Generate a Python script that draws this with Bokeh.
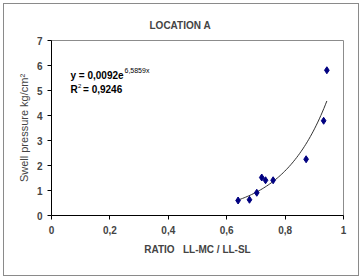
from bokeh.plotting import figure
from bokeh.models import Range1d, FixedTicker, Label, ColumnDataSource
from bokeh.embed import file_html
from bokeh.resources import INLINE
import numpy as np

ratio = [0.639, 0.678, 0.703, 0.720, 0.733, 0.759, 0.872, 0.932, 0.943]
swell = [0.60, 0.63, 0.91, 1.52, 1.41, 1.41, 2.25, 3.79, 5.81]
fit_a = 0.0092
fit_b = 6.5859
x_ticks = [0, 0.2, 0.4, 0.6, 0.8, 1]
x_labels = ["0", "0,2", "0,4", "0,6", "0,8", "1"]
y_ticks = [0, 1, 2, 3, 4, 5, 6, 7]

FONT = "Liberation Sans"

p = figure(width=362, height=279, output_backend="svg", toolbar_location=None,
           x_range=Range1d(0, 1), y_range=Range1d(0, 7),
           min_border_left=51, min_border_right=19, min_border_top=40, min_border_bottom=64)
p.border_fill_color = None
p.styles = {"background-color": "white",
            "box-shadow": "inset 0 0 0 3px white, inset 0 0 0 4px #8a8a8a"}

p.title.text = "LOCATION A"
p.title.align = "left"
p.title.offset = 98
p.title.standoff = 16
p.title.vertical_align = "top"
p.title.text_font = FONT
p.title.text_font_size = "10px"
p.title.text_font_style = "bold"

p.grid.visible = False
p.outline_line_color = "#8c8c8c"
p.outline_line_width = 1
p.background_fill_color = "white"

for ax in (p.xaxis[0], p.yaxis[0]):
    ax.axis_line_color = "black"
    ax.major_tick_line_color = "black"
    ax.major_tick_out = 4
    ax.major_tick_in = 0
    ax.minor_tick_line_color = None
    ax.major_label_text_font = FONT
    ax.major_label_text_font_size = "10px"
    ax.major_label_text_font_style = "bold"
    ax.axis_label_text_font = FONT
    ax.axis_label_text_font_size = "10px"
    ax.axis_label_text_font_style = "bold"

p.xaxis.ticker = FixedTicker(ticks=x_ticks)
p.xaxis.major_label_overrides = {t: l for t, l in zip(x_ticks, x_labels)}
p.xaxis.major_label_standoff = 6
p.xaxis.axis_label = "RATIO\u00a0\u00a0\u00a0LL-MC / LL-SL"
p.xaxis.axis_label_standoff = 7

p.yaxis.ticker = FixedTicker(ticks=y_ticks)
p.yaxis.major_label_standoff = 5
p.yaxis.axis_label = "Swell pressure kg/cm²"
p.yaxis.axis_label_standoff = 4
p.yaxis.axis_label_text_font_style = "normal"
p.yaxis.axis_label_text_font_size = "11px"

xf = np.linspace(min(ratio), max(ratio), 60)
yf = fit_a * np.exp(fit_b * xf)
p.line(xf, yf, line_color="#333333", line_width=1)

src = ColumnDataSource(dict(x=ratio, y=swell))
p.scatter("x", "y", source=src, marker="diamond", size=7, fill_color="#000080", line_color="#000080")

p.add_layout(Label(x=0.065, y=5.6, text="y = 0,0092e", text_font=FONT, text_font_size="10px",
                   text_font_style="bold", text_baseline="middle", text_color="black"))
p.add_layout(Label(x=0.25, y=5.8, text="6,5859x", text_font=FONT, text_font_size="7px",
                   text_baseline="middle", text_color="black"))
p.add_layout(Label(x=0.065, y=5.04, text="R", text_font=FONT, text_font_size="10px",
                   text_font_style="bold", text_baseline="middle", text_color="black"))
p.add_layout(Label(x=0.091, y=5.2, text="2", text_font=FONT, text_font_size="6px",
                   text_baseline="middle", text_color="black"))
p.add_layout(Label(x=0.108, y=5.04, text="= 0,9246", text_font=FONT, text_font_size="10px",
                   text_font_style="bold", text_baseline="middle", text_color="black"))

open("out.html", "w").write(file_html(p, INLINE))
